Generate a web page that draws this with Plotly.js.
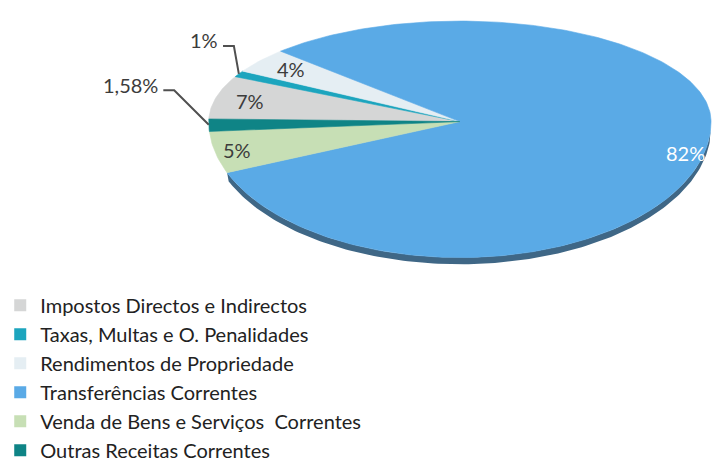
<!DOCTYPE html>
<html>
<head>
<meta charset="utf-8">
<script src="https://cdn.plot.ly/plotly-3.0.1.min.js"></script>
<style>html,body{margin:0;padding:0;background:#fff;}#chart{width:714px;height:470px;}</style>
</head>
<body>
<div id="chart"></div>
<script>
// ---- data ----
const categories = [
  "Impostos Directos e Indirectos",
  "Taxas, Multas e O. Penalidades",
  "Rendimentos de Propriedade",
  "Transferências Correntes",
  "Venda de Bens e Serviços  Correntes",
  "Outras Receitas Correntes"
];
const values = [7, 1, 4, 82, 5, 1.58];
const valueLabels = ["7%", "1%", "4%", "82%", "5%", "1,58%"];
const colors = ["#d5d6d6", "#1ca5be", "#e5eef3", "#5aaae6", "#c7dfb5", "#0f8486"];

// ---- geometry (pixel-like axes) ----
const geo = {cx: 457, cy: 127, a: 254, bTop: 105, bBot: 142, thick: 7, start: 178.5};
function P(deg, r) {
  r = (r === undefined) ? 1 : r;
  const t = deg * Math.PI / 180;
  const s = Math.sin(t);
  return [geo.cx + r * geo.a * Math.cos(t), geo.cy - r * (s >= 0 ? geo.bTop : geo.bBot) * s];
}
const total = values.reduce((s, v) => s + v, 0);
const traces = [];
const slices = [];
let ang = geo.start;
values.forEach((v, i) => {
  const span = v / total * 360;
  const a0 = ang, a1 = ang - span; // clockwise
  slices.push({a0, a1, mid: (a0 + a1) / 2});
  ang = a1;
});

// side (thickness) of the big slice, front part only
(function () {
  const s = slices[3];
  const xs = [], ys = [];
  const lo = s.a1, hi = 0;
  for (let d = lo; d <= hi; d += 1) { const p = P(d); xs.push(p[0]); ys.push(p[1]); }
  for (let d = hi; d >= lo; d -= 1) { const p = P(d); xs.push(p[0]); ys.push(p[1] + geo.thick); }
  traces.push({type: "scatter", x: xs, y: ys, mode: "lines", fill: "toself",
    fillcolor: "#3f6786", line: {width: 0, color: "#3f6786"}, showlegend: false, hoverinfo: "skip"});
})();

// slices
slices.forEach((s, i) => {
  const xs = [geo.cx], ys = [geo.cy];
  const n = Math.max(4, Math.ceil(Math.abs(s.a0 - s.a1)));
  for (let k = 0; k <= n; k++) {
    const d = s.a0 + (s.a1 - s.a0) * k / n;
    const p = P(d); xs.push(p[0]); ys.push(p[1]);
  }
  xs.push(geo.cx); ys.push(geo.cy);
  traces.push({type: "scatter", x: xs, y: ys, mode: "lines", fill: "toself",
    fillcolor: colors[i], line: {width: 0.6, color: colors[i]}, showlegend: false,
    hoverinfo: "text", text: categories[i] + ": " + valueLabels[i]});
});

// labels
const annotations = [];
const labelFont = "Lato, 'Open Sans', sans-serif";
const labelShift = {0: [0, 0], 2: [3, 0], 3: [14, 9], 4: [-13, 2]};
const leaderOffsets = {1: [[-5, -29], [-11, 0]], 5: [[-35, -36], [-11, 0]]};
slices.forEach((s, i) => {
  if (values[i] >= 2) {
    const p = P(s.mid, 0.86);
    const sh = labelShift[i] || [0, 0];
    annotations.push({x: p[0] + sh[0], y: p[1] + sh[1], xref: "x", yref: "y", text: valueLabels[i], showarrow: false,
      font: {family: labelFont, size: 20, color: i === 3 ? "#ffffff" : "#3c3c3c"}});
  } else {
    const e = P(s.mid);
    const off = leaderOffsets[i];
    const e1 = [e[0] + off[0][0], e[1] + off[0][1]];
    const e2 = [e1[0] + off[1][0], e1[1] + off[1][1]];
    traces.push({type: "scatter", x: [e[0], e1[0], e2[0]], y: [e[1], e1[1], e2[1]], mode: "lines",
      line: {color: "#505050", width: 2}, showlegend: false, hoverinfo: "skip"});
    annotations.push({x: e2[0] - 3, y: e2[1] - 6, xref: "x", yref: "y", text: valueLabels[i], showarrow: false,
      xanchor: "right", font: {family: labelFont, size: 20, color: "#3c3c3c"}});
  }
});

// legend entries
categories.forEach((c, i) => {
  traces.push({type: "scatter", x: [null], y: [null], mode: "markers", name: c,
    marker: {symbol: "square", size: 12, color: colors[i]}, legendgroup: "g" + i, hoverinfo: "skip"});
});

const layout = {
  width: 714, height: 470,
  margin: {l: 0, r: 0, t: 0, b: 0},
  paper_bgcolor: "#ffffff", plot_bgcolor: "#ffffff",
  xaxis: {range: [0, 714], visible: false, fixedrange: true},
  yaxis: {range: [470, 0], visible: false, fixedrange: true},
  showlegend: true,
  legend: {x: -0.011, xanchor: "left", y: 0.365, yanchor: "top", traceorder: "normal",
    tracegroupgap: 3.5, bgcolor: "rgba(0,0,0,0)",
    font: {family: "Lato, 'Open Sans', sans-serif", size: 20, color: "#222222"}},
  annotations: annotations
};
Plotly.newPlot("chart", traces, layout, {displayModeBar: false, staticPlot: true});
</script>
</body>
</html>
